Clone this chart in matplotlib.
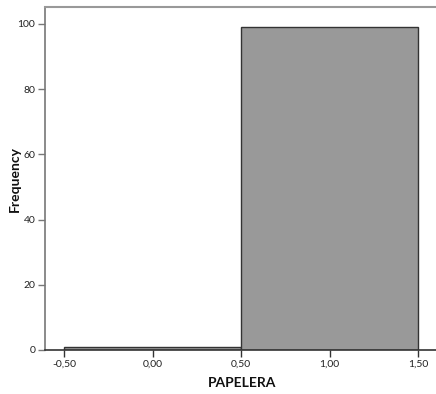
import matplotlib
matplotlib.use("Agg")
import matplotlib.pyplot as plt

# Histogram data: bin edges and frequencies
bin_left = [-0.5, 0.5]
bin_width = [1.0, 1.0]
frequency = [1, 99]
x_ticks = [-0.5, 0.0, 0.5, 1.0, 1.5]
x_tick_labels = ["-0,50", "0,00", "0,50", "1,00", "1,50"]
y_ticks = [0, 20, 40, 60, 80, 100]

plt.rcParams['font.family'] = ['Lato', 'DejaVu Sans']

fig = plt.figure(figsize=(4.36, 3.94), dpi=100)
ax = fig.add_axes([0.1032, 0.1117, 0.8968, 0.8706])

ax.bar(bin_left, frequency, width=bin_width, align='edge',
       color='#999999', edgecolor='#333333', linewidth=1.0, zorder=2)

ax.set_xlim(-0.607, 1.6)
ax.set_ylim(0, 105.2)

ax.set_xticks(x_ticks)
ax.set_xticklabels(x_tick_labels)
ax.set_yticks(y_ticks)

ax.tick_params(axis='both', direction='out', length=5, width=1, labelsize=7.5,
               colors='#333333', labelcolor='#222222', pad=2)
ax.tick_params(axis='y', colors='#777777', labelcolor='#222222')

ax.spines['right'].set_visible(False)
ax.spines['top'].set_color('#999999')
ax.spines['top'].set_linewidth(1.5)
ax.spines['left'].set_color('#777777')
ax.spines['left'].set_linewidth(1.2)
ax.spines['bottom'].set_color('#333333')
ax.spines['bottom'].set_linewidth(1.2)

# Axis titles placed in figure coordinates
fig.text(242 / 436, 1 - 383 / 394, "PAPELERA", fontsize=10, fontweight='bold',
         ha='center', va='center', color='#111111')
fig.text(15 / 436, 1 - 179 / 394, "Frequency", fontsize=10, fontweight='bold',
         ha='center', va='center', rotation=90, color='#111111')

fig.savefig("out.png", dpi=100)
